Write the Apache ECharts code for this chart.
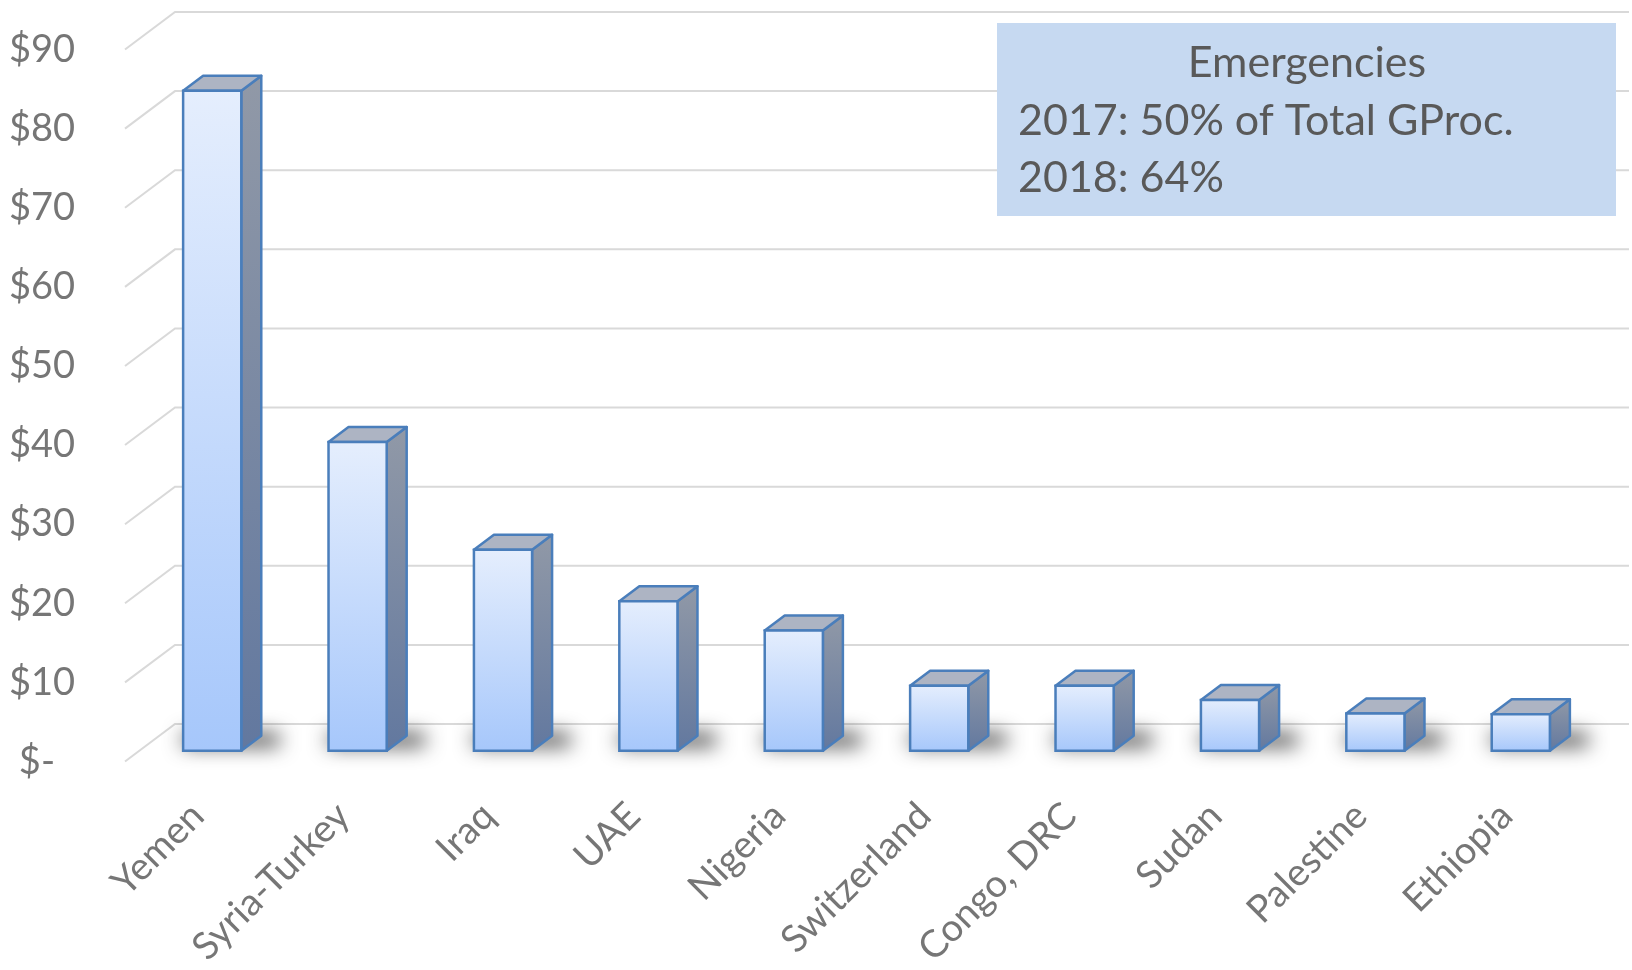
<!DOCTYPE html>
<html>
<head>
<meta charset="utf-8">
<script src="https://cdn.jsdelivr.net/npm/echarts@6/dist/echarts.min.js"></script>
<style>
  html, body { margin: 0; padding: 0; background: #fff; }
  #chart { width: 1632px; height: 970px; }
</style>
</head>
<body>
<div id="chart"></div>
<script>
// chart data
const categories = ["Yemen", "Syria-Turkey", "Iraq", "UAE", "Nigeria", "Switzerland", "Congo, DRC", "Sudan", "Palestine", "Ethiopia"];
const values = [83.4, 39.0, 25.4, 18.9, 15.2, 8.2, 8.2, 6.4, 4.7, 4.6];
const yTicks = [0, 10, 20, 30, 40, 50, 60, 70, 80, 90];
const noteTitle = "Emergencies";
const noteLines = ["2017: 50% of Total GProc.", "2018: 64%"];

// fake 3D: oblique offset of the full floor depth, in px
const DX = 50, DY = -37.5;
const BAR_FRONT = 0.29, BAR_BACK = 0.69;
const BAR_WIDTH = 0.4;

const FONT = "Lato";
const LABEL_COLOR = "#767676";
const NOTE_COLOR = "#595959";
const EDGE = "#4a7ebb";

const chart = echarts.init(document.getElementById("chart"), null, { renderer: "canvas" });

// back wall + side wall gridlines
function renderGrid(params, api) {
  const cs = params.coordSys;
  const y = api.coord([0, api.value(1)])[1];
  return {
    type: "polyline",
    shape: { points: [[cs.x, y], [cs.x + DX, y + DY], [cs.x + cs.width + DX, y + DY]] },
    style: { stroke: "#d9d9d9", lineWidth: 2, fill: null }
  };
}

function renderBar(params, api) {
  const i = api.value(0);
  const base = api.coord([i, 0]);
  const top = api.coord([i, api.value(1)]);
  const w = api.size([1, 0])[0] * BAR_WIDTH;
  const x0 = base[0] + DX * BAR_FRONT - w / 2;
  const x1 = x0 + w;
  const yb = base[1] + DY * BAR_FRONT;
  const yt = top[1] + DY * BAR_FRONT;
  const ox = DX * (BAR_BACK - BAR_FRONT), oy = DY * (BAR_BACK - BAR_FRONT);
  const far = 3000;
  return {
    type: "group",
    children: [
      // soft floor shadow (shape drawn off-canvas, only its blur lands on the floor)
      {
        type: "polygon",
        shape: { points: [[x0 - far, yb - 5], [x1 + ox + 18 - far, yb - 5], [x1 + ox + 18 - far, yb - 17], [x0 - far, yb - 17]] },
        style: { fill: "#000", shadowBlur: 20, shadowColor: "rgba(0,0,0,0.8)", shadowOffsetX: far },
        silent: true
      },
      // side face
      {
        type: "polygon",
        shape: { points: [[x1, yb], [x1 + ox, yb + oy], [x1 + ox, yt + oy], [x1, yt]] },
        style: {
          fill: { type: "linear", x: 0, y: 0, x2: 0, y2: 1, colorStops: [{ offset: 0, color: "#9199a7" }, { offset: 1, color: "#62789f" }] },
          stroke: EDGE, lineWidth: 2.5, lineJoin: "round"
        }
      },
      // top face
      {
        type: "polygon",
        shape: { points: [[x0, yt], [x1, yt], [x1 + ox, yt + oy], [x0 + ox, yt + oy]] },
        style: { fill: "#adb4c3", stroke: EDGE, lineWidth: 2.5, lineJoin: "round" }
      },
      // front face
      {
        type: "rect",
        shape: { x: x0, y: yt, width: w, height: yb - yt },
        style: {
          fill: { type: "linear", x: 0, y: 0, x2: 0, y2: 1, colorStops: [{ offset: 0, color: "#e5eefd" }, { offset: 1, color: "#a6c7fb" }] },
          stroke: EDGE, lineWidth: 2.5
        }
      }
    ]
  };
}

const option = {
  animation: false,
  backgroundColor: "#ffffff",
  grid: { left: 125, right: 53, top: 49.5, bottom: 205 },
  xAxis: {
    type: "category",
    data: categories,
    axisLine: { show: false },
    axisTick: { show: false },
    axisLabel: { rotate: 45, interval: 0, margin: 48, fontSize: 38, fontFamily: FONT, color: LABEL_COLOR }
  },
  yAxis: {
    type: "value",
    min: 0,
    max: 90,
    interval: 10,
    axisLine: { show: false },
    axisTick: { show: false },
    splitLine: { show: false },
    axisLabel: {
      margin: 50,
      fontSize: 38,
      fontFamily: FONT,
      color: LABEL_COLOR,
      formatter: v => (v === 0 ? "{z|$-}" : "$" + v),
      rich: { z: { fontSize: 38, fontFamily: FONT, color: LABEL_COLOR, padding: [0, 20, 0, 0] } }
    }
  },
  series: [
    {
      type: "custom",
      z: 1,
      silent: true,
      renderItem: renderGrid,
      encode: { x: 0, y: 1 },
      data: yTicks.map(v => [0, v])
    },
    {
      type: "custom",
      z: 3,
      renderItem: renderBar,
      encode: { x: 0, y: 1 },
      data: values.map((v, i) => [i, v])
    }
  ],
  graphic: [
    {
      type: "group",
      left: 997,
      top: 23,
      z: 100,
      children: [
        { type: "rect", z: 100, shape: { x: 0, y: 0, width: 619, height: 193 }, style: { fill: "#c6d9f1" } },
        {
          type: "text", z: 101, x: 310, y: 40,
          style: { text: noteTitle, fontSize: 43, fontFamily: FONT, fill: NOTE_COLOR, align: "center", verticalAlign: "middle" }
        },
        {
          type: "text", z: 101, x: 21, y: 98,
          style: { text: noteLines[0], fontSize: 43, fontFamily: FONT, fill: NOTE_COLOR, align: "left", verticalAlign: "middle" }
        },
        {
          type: "text", z: 101, x: 21, y: 155,
          style: { text: noteLines[1], fontSize: 43, fontFamily: FONT, fill: NOTE_COLOR, align: "left", verticalAlign: "middle" }
        }
      ]
    }
  ]
};

chart.setOption(option);
window.addEventListener("resize", () => chart.resize());
</script>
</body>
</html>
